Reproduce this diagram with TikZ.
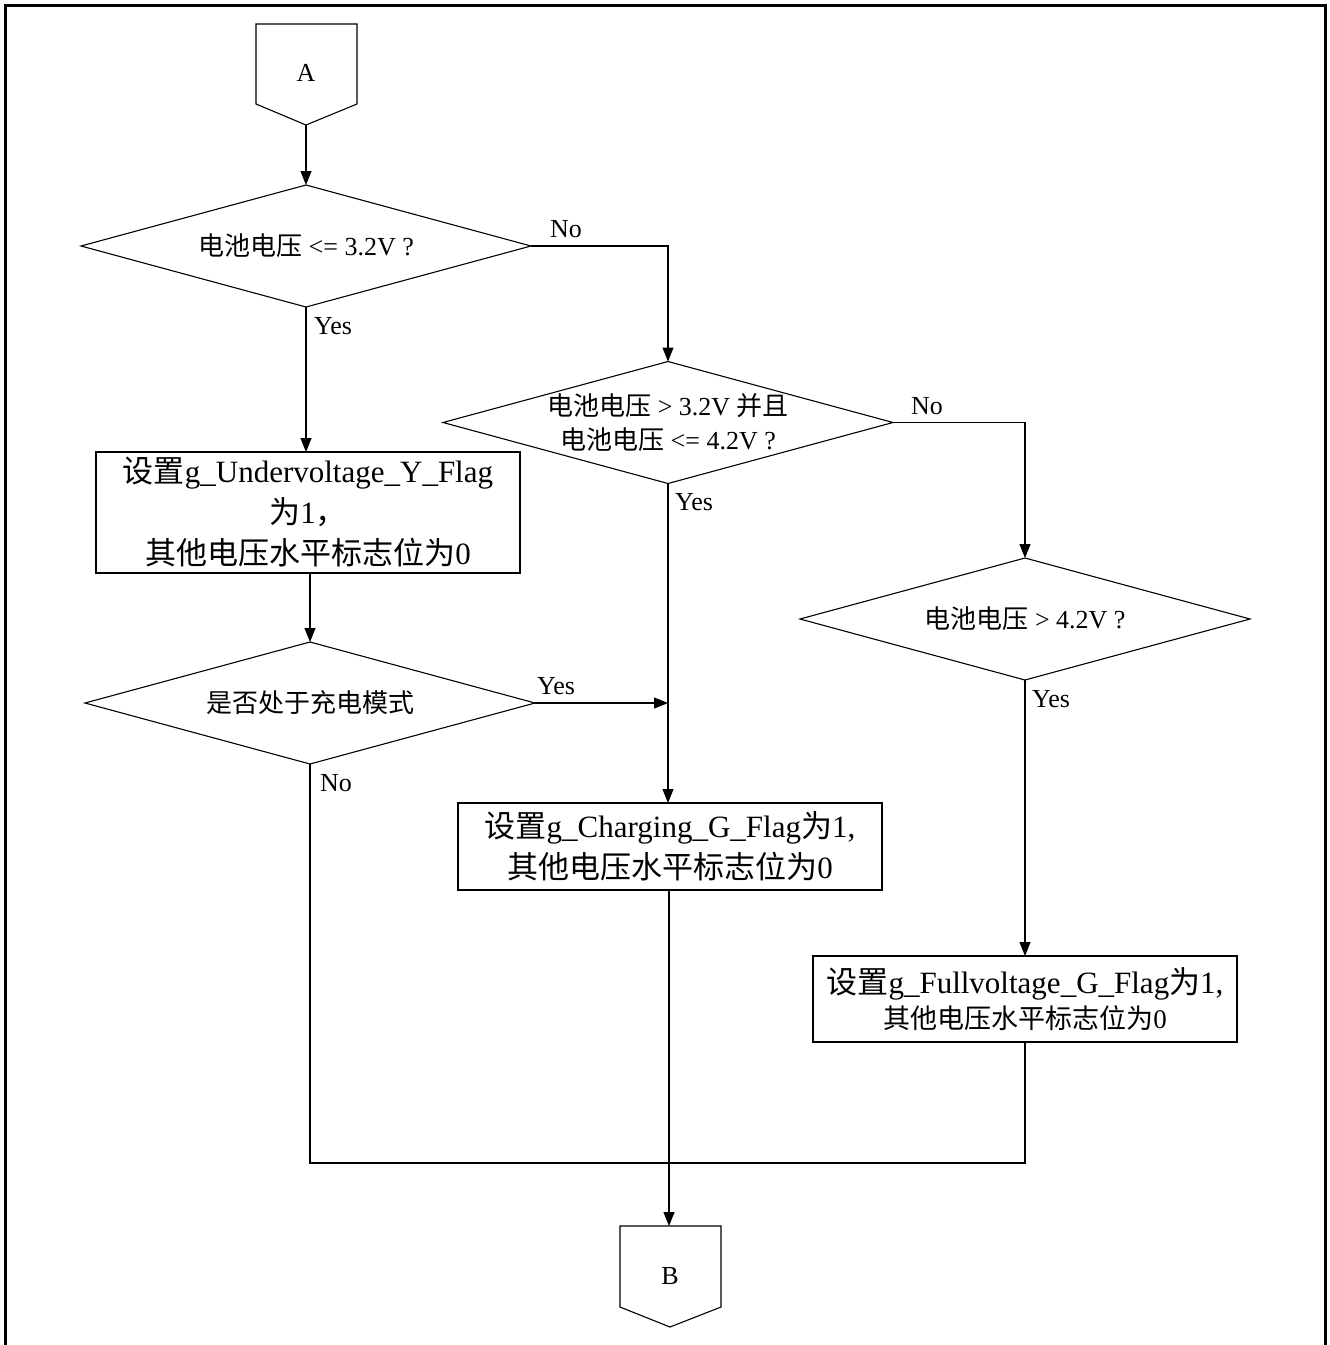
\documentclass[tikz,border=0pt]{standalone}
\usepackage{fontspec}
\setmainfont{Liberation Serif}
\newfontfamily\cjkfont{Noto Sans CJK SC}
\newcommand\hz[1]{{\cjkfont #1}}
\usetikzlibrary{shapes.geometric,arrows.meta}
\begin{document}
\begin{tikzpicture}[x=1pt,y=-1pt,
  fig/.style={draw, line width=1.1pt, inner sep=0pt, outer sep=0pt},
  dia/.style={fig, diamond, minimum width=450, minimum height=122},
  box/.style={fig, rectangle, minimum width=424, align=center},
  conn/.style={line width=1.1pt},
  arr/.style={conn, -{Triangle[length=14pt,width=11pt]}},
  small/.style={font=\fontsize{26}{34}\selectfont, inner sep=0pt, align=center},
  big/.style={font=\fontsize{31}{41}\selectfont},
  lbl/.style={font=\fontsize{26}{30}\selectfont, inner sep=0pt}]
\useasboundingbox (0,0) rectangle (1330,1345);
\draw[line width=3pt] (5,1345) -- (5,5) -- (1325,5) -- (1325,1345);

% off-page connector A
\draw[fig] (256,24) -- (357,24) -- (357,104) -- (306,125) -- (256,104) -- cycle;
\node[small] (A) at (306,73) {A};
\coordinate (Abot) at (306,125);

% off-page connector B
\draw[fig] (620,1226) -- (721,1226) -- (721,1307) -- (670,1327) -- (620,1307) -- cycle;
\node[small] (B) at (670,1276) {B};
\coordinate (Btop) at (669,1226);

% decisions
\node[dia] (d1) at (306,246) {};
\node[small] at (d1) {\hz{电池电压} <= 3.2V ?};
\node[dia] (d2) at (668,422.5) {};
\node[small] at (d2) {\hz{电池电压} > 3.2V \hz{并且}\\\hz{电池电压} <= 4.2V ?};
\node[dia] (d3) at (310,703) {};
\node[small] at (d3) {\hz{是否处于充电模式}};
\node[dia] (d4) at (1025,619) {};
\node[small] at (d4) {\hz{电池电压} > 4.2V ?};

% process boxes
\node[box, big, minimum height=121] (b1) at (308,512.5)
  {\hz{设置}g\_Undervoltage\_Y\_Flag\\\hz{为}1\hz{，}\\\hz{其他电压水平标志位为}0};
\node[box, big, minimum height=87] (b2) at (670,846.5)
  {\hz{设置}g\_Charging\_G\_Flag\hz{为}1,\\\hz{其他电压水平标志位为}0};
\node[box, minimum height=86] (b3) at (1025,999)
  {{\fontsize{31}{37}\selectfont \hz{设置}g\_Fullvoltage\_G\_Flag\hz{为}1,}\\[4pt]
   {\fontsize{27}{33}\selectfont \hz{其他电压水平标志位为}0}};

\coordinate (join) at (1025,1163);

% connectors
\draw[arr] (Abot) -- (d1.north);
\draw[arr] (d1.south) -- (d1.south |- b1.north);
\draw[arr] (d1.east) -| (d2.north);
\draw[arr] (d3.north |- b1.south) -- (d3.north);
\draw[arr] (d3.east) -- (d3.east -| d2.south);
\draw[arr] (d2.south) -- (d2.south |- b2.north);
\draw[arr] (d2.east) -| (d4.north);
\draw[arr] (d4.south) -- (b3.north);
\draw[conn] (d3.south) |- (join) -- (b3.south);
\draw[arr] (b2.south -| Btop) -- (Btop);

% labels
\node[lbl] (l1) at (566,229) {No};
\node[lbl] (l2) at (333,326) {Yes};
\node[lbl] (l3) at (927,406) {No};
\node[lbl] (l4) at (694,502) {Yes};
\node[lbl] (l5) at (1051,699) {Yes};
\node[lbl] (l6) at (556,686) {Yes};
\node[lbl] (l7) at (336,783) {No};
\end{tikzpicture}
\end{document}
